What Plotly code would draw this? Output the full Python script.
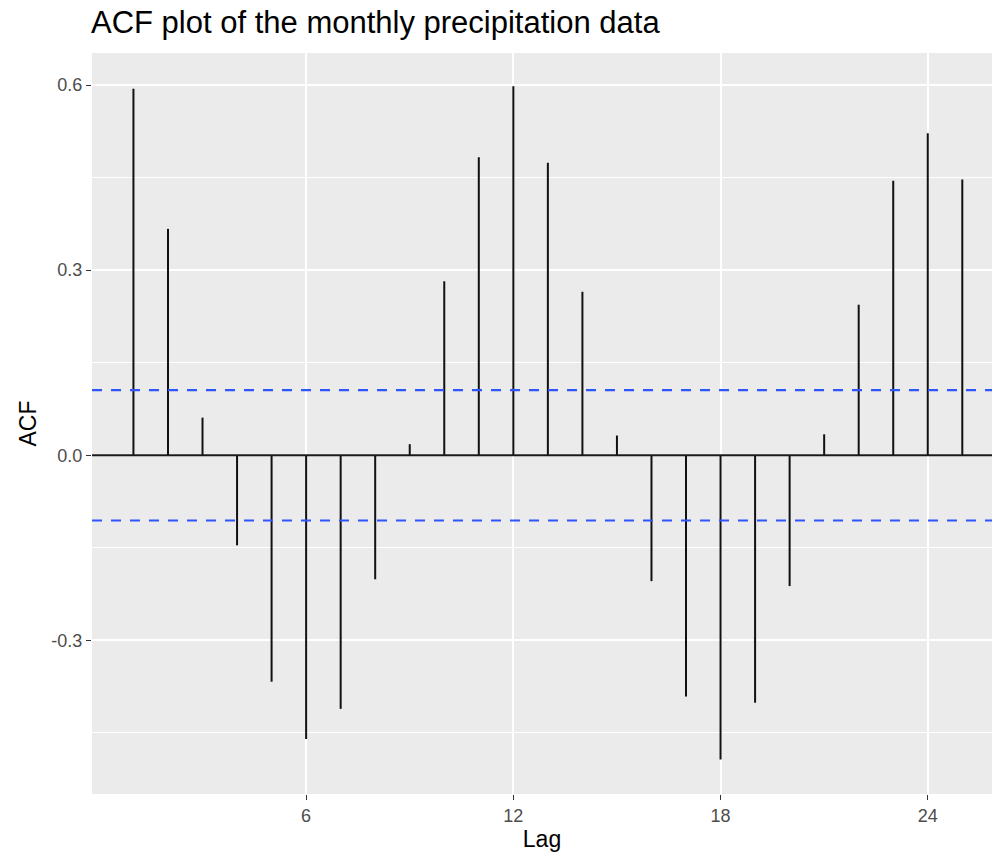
import plotly.graph_objects as go

# ---- data ----
lags = list(range(1, 26))
acf_values = [0.594, 0.367, 0.061, -0.146, -0.367, -0.460, -0.411, -0.201, 0.018, 0.282,
              0.483, 0.598, 0.474, 0.265, 0.032, -0.204, -0.391, -0.493, -0.401, -0.212,
              0.034, 0.244, 0.445, 0.522, 0.447]
ci_bound = 0.1057
x_tick_vals = [6, 12, 18, 24]
x_tick_text = ["6", "12", "18", "24"]
y_tick_vals = [-0.3, 0.0, 0.3, 0.6]
y_tick_text = ["-0.3", "0.0", "0.3", "0.6"]

# segments (vertical sticks from 0 to acf)
seg_x, seg_y = [], []
for l, v in zip(lags, acf_values):
    seg_x += [l, l, None]
    seg_y += [0, v, None]

fig = go.Figure()

fig.add_hline(y=0, line=dict(color="#1a1a1a", width=2), layer="above")
for b in (ci_bound, -ci_bound):
    fig.add_hline(y=b, line=dict(color="#2f55ff", width=2.2, dash="10px,9px"), layer="above")

fig.add_trace(go.Scatter(x=seg_x, y=seg_y, mode="lines",
                         line=dict(color="#111111", width=2),
                         hoverinfo="skip", showlegend=False))

font_family = "Liberation Sans, Arial, Helvetica, sans-serif"

fig.update_layout(
    width=992, height=857,
    margin=dict(l=92, r=0, t=53, b=63),
    paper_bgcolor="white",
    plot_bgcolor="#EBEBEB",
    font=dict(family=font_family, color="black"),
    title=dict(text="ACF plot of the monthly precipitation data",
               x=91/992, xref="container", xanchor="left",
               y=1 - 22/857, yref="container", yanchor="middle",
               font=dict(size=31, color="black", family=font_family)),
    showlegend=False,
)

fig.update_xaxes(
    range=[-0.2, 25.86],
    tickvals=x_tick_vals, ticktext=x_tick_text,
    showgrid=True, gridcolor="white", gridwidth=1.8,
    zeroline=False, showline=False,
    ticks="outside", ticklen=5, tickwidth=1.3, tickcolor="#333333",
    tickfont=dict(size=18, color="#4D4D4D"),
    title=dict(text="Lag", font=dict(size=23, color="black"), standoff=5),
)
fig.update_yaxes(
    range=[-0.549, 0.652],
    tickvals=y_tick_vals, ticktext=y_tick_text,
    showgrid=True, gridcolor="white", gridwidth=1.8,
    minor=dict(dtick=0.15, tick0=0, showgrid=True, gridcolor="white", gridwidth=0.8, ticks=""),
    zeroline=False, showline=False,
    ticks="outside", ticklen=5, tickwidth=1.3, tickcolor="#333333",
    tickfont=dict(size=18, color="#4D4D4D"),
    title=dict(text="ACF", font=dict(size=23, color="black"), standoff=8),
)

fig.write_html("out.html")
